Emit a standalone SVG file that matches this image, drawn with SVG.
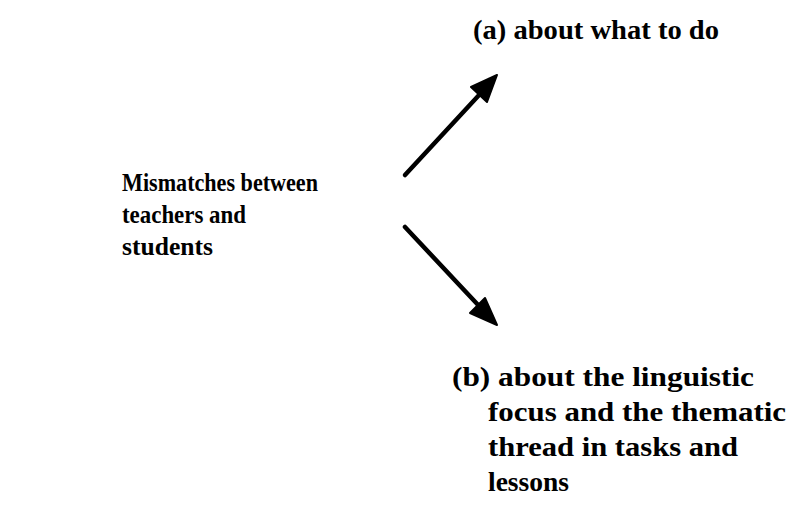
<svg xmlns="http://www.w3.org/2000/svg" width="800" height="520" viewBox="0 0 800 520">
<style>
text{font-family:"Liberation Serif","Times New Roman",serif;font-weight:bold;fill:#000}
.l{font-size:26px}
.r{font-size:28px}
.c{stroke:#000;stroke-width:4.5;stroke-linecap:round;fill:none}
.h{fill:#000;stroke:#000;stroke-width:2;stroke-linejoin:round}
</style>
<rect width="800" height="520" fill="#fff"/>
<g id="source" class="l">
<text x="122" y="191" textLength="196" lengthAdjust="spacingAndGlyphs">Mismatches between</text>
<text x="122" y="223" textLength="124" lengthAdjust="spacingAndGlyphs">teachers and</text>
<text x="122" y="255" textLength="91" lengthAdjust="spacingAndGlyphs">students</text>
</g>
<g id="a" class="r">
<text x="473" y="39" textLength="246" lengthAdjust="spacingAndGlyphs">(a) about what to do</text>
</g>
<g id="b" class="r">
<text x="452" y="386" textLength="302" lengthAdjust="spacingAndGlyphs">(b) about the linguistic</text>
<text x="488" y="421" textLength="298" lengthAdjust="spacingAndGlyphs">focus and the thematic</text>
<text x="488" y="456" textLength="250" lengthAdjust="spacingAndGlyphs">thread in tasks and</text>
<text x="488" y="491" textLength="81" lengthAdjust="spacingAndGlyphs">lessons</text>
</g>
<g id="connectors">
<line class="c" x1="405" y1="175" x2="480" y2="94"/>
<path class="h" d="M497,75 L471,87 L487,102 Z"/>
<line class="c" x1="405" y1="227" x2="480" y2="307"/>
<path class="h" d="M497,325 L470,313 L485,298 Z"/>
</g>
</svg>
